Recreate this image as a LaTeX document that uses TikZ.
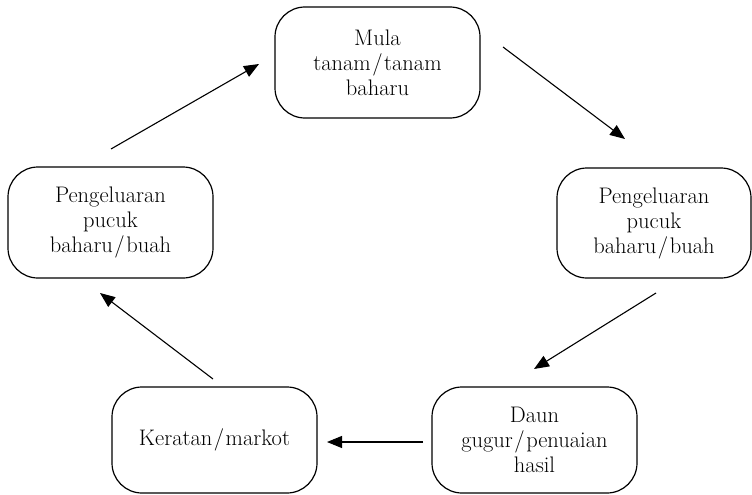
\documentclass[tikz,border=0pt]{standalone}
\usepackage{fontspec}
\usetikzlibrary{arrows.meta}
\newcommand{\sls}{\kern1.5pt/\kern1.5pt}
\begin{document}
\begin{tikzpicture}[x=1pt,y=-1pt,
  box/.style={draw,line width=1.2pt,rounded corners=30pt,align=center,inner sep=0pt,
    font=\fontsize{22.5}{25}\selectfont},
  arr/.style={line width=1.1pt,-{Triangle[length=15pt,width=12pt]}}]
\useasboundingbox (0,0) rectangle (752,495);
\node[box,minimum width=205pt,minimum height=111pt] (top) at (377.5,62.5) {Mula\\tanam\sls tanam\\baharu};
\node[box,minimum width=194pt,minimum height=110pt] (right) at (654,223) {Pengeluaran\\pucuk\\baharu\sls buah};
\node[box,minimum width=205pt,minimum height=106pt] (br) at (534.5,440) {Daun\\gugur\sls penuaian\\hasil};
\node[box,minimum width=205pt,minimum height=106pt] (bl) at (214.5,440) {Keratan\sls markot};
\node[box,minimum width=205pt,minimum height=111pt] (left) at (110.5,222.5) {Pengeluaran\\pucuk\\baharu\sls buah};
\coordinate (a1s) at (503,47); \coordinate (a1e) at (625,139);
\coordinate (a2s) at (656,293); \coordinate (a2e) at (534,369);
\coordinate (a3s) at (423,442); \coordinate (a3e) at (327,442);
\coordinate (a4s) at (213,379); \coordinate (a4e) at (100,293);
\coordinate (a5s) at (111,149); \coordinate (a5e) at (259,64);
\draw[arr] (a1s) -- (a1e);
\draw[arr] (a2s) -- (a2e);
\draw[arr] (a3s) -- (a3e);
\draw[arr] (a4s) -- (a4e);
\draw[arr] (a5s) -- (a5e);
\end{tikzpicture}
\end{document}
